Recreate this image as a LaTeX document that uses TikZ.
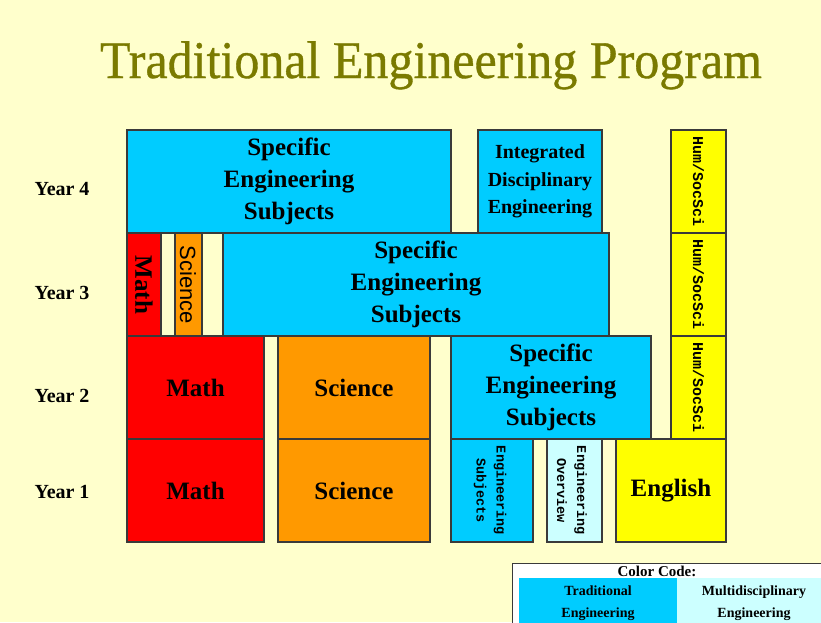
\documentclass[tikz,border=0pt]{standalone}
\usepackage{fontspec}
\setmainfont{Liberation Serif}
\newfontfamily\monof{Liberation Mono}
\newfontfamily\sansf{Liberation Sans}
\newfontfamily\titlef{Liberation Serif}[FakeBold=0.7]
\definecolor{bgc}{HTML}{FFFFCC}
\definecolor{engc}{HTML}{00CCFF}
\definecolor{multc}{HTML}{CCFFFF}
\definecolor{mathc}{HTML}{FF0000}
\definecolor{scic}{HTML}{FF9900}
\definecolor{humc}{HTML}{FFFF00}
\definecolor{titc}{HTML}{7A7A00}
\definecolor{edgec}{HTML}{3A3A3A}
\begin{document}
\begin{tikzpicture}[x=1pt,y=-1pt,
  blk/.style={draw=edgec, line width=1.3pt, inner sep=0pt, outer sep=0pt, align=center, text=black},
  sz/.style 2 args={minimum width=#1pt, minimum height=#2pt},
  big/.style={font=\fontsize{25}{32}\selectfont\bfseries},
  mid/.style={font=\fontsize{20}{27.5}\selectfont\bfseries},
  mono/.style={font=\fontsize{13.5}{20}\selectfont\monof\bfseries},
  humtxt/.style={font=\fontsize{15}{18}\selectfont\monof\bfseries},
  yr/.style={font=\fontsize{20}{24}\selectfont\bfseries},
  leg/.style={font=\fontsize{14}{22}\selectfont\bfseries, align=center, inner sep=0pt},
  ttl/.style={font=\fontsize{50}{50}\selectfont\titlef, anchor=base, yscale=1.06}
]
\useasboundingbox (0,0) rectangle (821,622);
\fill[bgc] (0,0) rectangle (821,622);

% title
\node[ttl, text=titc] (title) at (431,78) {Traditional Engineering Program};

% year labels
\node[yr] (y4) at (62,189) {Year 4};
\node[yr] (y3) at (62,293) {Year 3};
\node[yr] (y2) at (62,396) {Year 2};
\node[yr] (y1) at (62,492) {Year 1};

% Year 4
\node[blk, fill=engc, sz={324}{103}, big] (y4spec) at (289,181.5) {Specific\\Engineering\\Subjects};
\node[blk, fill=engc, sz={124}{103}, mid] (y4int) at (540,181.5) {Integrated\\Disciplinary\\Engineering};
\node[blk, fill=humc, sz={55}{103}] (hum4) at (698.5,181.5) {};
\node[humtxt, rotate=-90] (hum4t) at (hum4) {Hum/SocSci};

% Year 3
\node[blk, fill=mathc, sz={34}{103}] (y3math) at (144,284.5) {};
\node[big, rotate=-90, inner sep=0pt] (y3matht) at (144,285) {Math};
\node[blk, fill=scic, sz={27}{103}] (y3sci) at (188.5,284.5) {};
\node[font=\fontsize{22}{22}\selectfont\sansf, rotate=-90, inner sep=0pt] (y3scit) at (188,285) {Science};
\node[blk, fill=engc, sz={386}{103}, big] (y3spec) at (416,284.5) {Specific\\Engineering\\Subjects};
\node[blk, fill=humc, sz={55}{103}] (hum3) at (698.5,284.5) {};
\node[humtxt, rotate=-90] (hum3t) at (hum3) {Hum/SocSci};

% Year 2
\node[blk, fill=mathc, sz={137}{103}, big] (y2math) at (195.5,387.5) {Math};
\node[blk, fill=scic, sz={152}{103}, big] (y2sci) at (354,387.5) {Science};
\node[blk, fill=engc, sz={200}{103}, big] (y2spec) at (551,387.5) {Specific\\Engineering\\Subjects};
\node[blk, fill=humc, sz={55}{103}] (hum2) at (698.5,387.5) {};
\node[humtxt, rotate=-90] (hum2t) at (hum2) {Hum/SocSci};

% Year 1
\node[blk, fill=mathc, sz={137}{103}, big] (y1math) at (195.5,490.5) {Math};
\node[blk, fill=scic, sz={152}{103}, big] (y1sci) at (354,490.5) {Science};
\node[blk, fill=engc, sz={82}{103}] (y1engsub) at (492,490.5) {};
\node[mono, rotate=-90, align=center] (y1engsubt) at (490,490.5) {Engineering\\Subjects};
\node[blk, fill=multc, sz={55}{103}] (y1engov) at (574.5,490.5) {};
\node[mono, rotate=-90, align=center] (y1engovt) at (572,490.5) {Engineering\\Overview};
\node[blk, fill=humc, sz={110}{103}, big] (y1eng) at (671,490.5) {English};

% legend
\node[draw=edgec, line width=1pt, fill=white, anchor=north west, minimum width=330pt, minimum height=80pt, inner sep=0pt] (legend) at (512,563) {};
\node[leg, font=\fontsize{15}{15}\selectfont\bfseries] (legtitle) at (657,571) {Color Code:};
\node[fill=engc, anchor=north west, minimum width=158pt, minimum height=60pt, inner sep=0pt] (legtrad) at (519,578) {};
\node[fill=multc, anchor=north west, minimum width=160pt, minimum height=60pt, inner sep=0pt] (legmult) at (677,578) {};
\node[leg] (legtradt) at (598,603.5) {Traditional\\Engineering};
\node[leg] (legmultt) at (754,603.5) {Multidisciplinary\\Engineering};
\end{tikzpicture}
\end{document}
